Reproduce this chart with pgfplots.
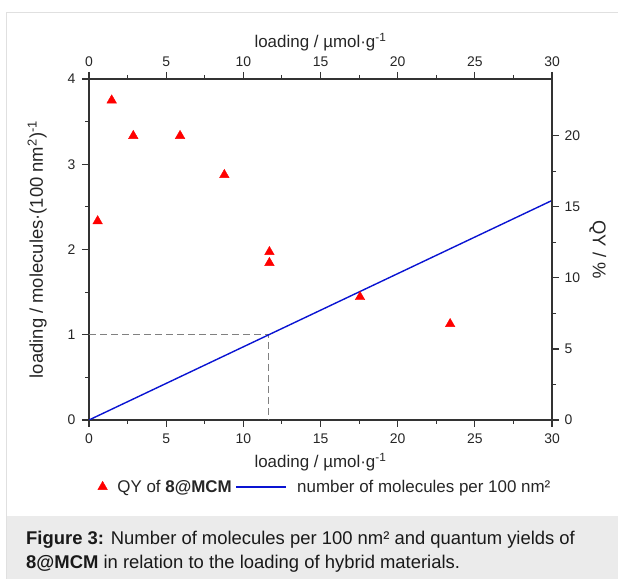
\documentclass[border=0pt]{standalone}
\usepackage{fontspec}
\setmainfont{Liberation Sans}
\usepackage{pgfplots}
\pgfplotsset{compat=1.18}

\definecolor{axisgray}{HTML}{333333}
\definecolor{qyred}{HTML}{FF0000}
\definecolor{lineblue}{HTML}{0A14D2}

\pgfplotsset{
  longline/.style={legend image code/.code={\draw[##1] (0bp,0bp) -- (50bp,0bp);}},
  twin/.style={
    scale only axis, width=463bp, height=341bp,
    xmin=0, xmax=30, xtick={0,5,...,30}, minor x tick num=1,
    tick align=outside, major tick length=7bp, minor tick length=4bp,
    axis line style={axisgray, line width=1.1bp, -},
    every tick/.style={axisgray, line width=1.1bp},
    tick label style={font=\fontsize{14}{16}\selectfont, text=black!85},
    xlabel style={font=\fontsize{17}{20}\selectfont, text=black!85},
    ylabel style={font=\fontsize{18.5}{22}\selectfont, text=black!85},
    /pgf/number format/assume math mode=true,
  },
}

\begin{document}
\begin{tikzpicture}[x=1bp, y=1bp]
\path[use as bounding box] (0,0) rectangle (618,579);
\begin{scope}
\clip (0,0) rectangle (618,579);
\draw[black!12, line width=1.3bp] (6.5,-10) -- (6.5,566.5) -- (640,566.5);
\fill[black!8] (7,0) rectangle (630,63);
\end{scope}

% left axis: molecules per 100 nm^2
\begin{axis}[twin, at={(89bp,159bp)}, anchor=south west,
  axis x line*=bottom, axis y line*=left,
  ymin=0, ymax=4, ytick={0,1,2,3,4}, minor y tick num=1,
  xticklabel style={yshift=-3bp}, yticklabel style={xshift=-3bp},
  xlabel={loading / µmol·g\textsuperscript{-1}},
  xlabel style={at={(axis description cs:0.5,-0.123)}, anchor=center},
  ylabel={loading / molecules·(100 nm\textsuperscript{2})\textsuperscript{-1}},
  ylabel style={at={(axis description cs:-0.112,0.5)}, anchor=center},
]
\addplot[black!50, line width=1.2bp, dash pattern=on 7bp off 4bp]
  coordinates {(0,1) (11.65,1) (11.65,0)};
\addplot[lineblue, line width=1.4bp] coordinates {(0,0) (30,2.575)};
\end{axis}

% right axis: quantum yield
\begin{axis}[twin, at={(89bp,159bp)}, anchor=south west,
  axis x line*=top, axis y line*=right,
  ymin=0, ymax=24, ytick={0,5,...,20}, minor y tick num=1,
  xticklabel style={yshift=2bp}, yticklabel style={xshift=2bp},
  xlabel={loading / µmol·g\textsuperscript{-1}},
  xlabel style={at={(axis description cs:0.5,1.108)}, anchor=center},
  ylabel={QY / \%},
  ylabel style={at={(axis description cs:1.099,0.5)}, anchor=center, rotate=180},
  legend style={at={(axis description cs:0.51,-0.196)}, anchor=center,
    draw=none, fill=none, legend columns=2,
    font=\fontsize{17}{20}\selectfont, text=black!85,
    /tikz/every odd column/.append style={column sep=8bp},
    /tikz/every even column/.append style={column sep=2bp}},
]
\addplot[only marks, mark=triangle*, mark size=5.5bp, color=qyred]
  coordinates {
  (0.56,14.0) (1.47,22.5) (2.87,20.0) (5.90,20.0) (8.77,17.25)
  (11.69,11.83) (11.69,11.06) (17.56,8.66) (23.40,6.76)};
\addlegendentry{QY of \textbf{8@MCM}}
\addlegendimage{lineblue, line width=1.4bp, longline}
\addlegendentry{number of molecules per 100 nm²}
\end{axis}

\node[anchor=base west, inner sep=0pt, font=\fontsize{18.5}{22}\selectfont, text=black!90]
  at (26,34) {\textbf{Figure 3:} Number of molecules per 100 nm² and quantum yields of};
\node[anchor=base west, inner sep=0pt, font=\fontsize{18.5}{22}\selectfont, text=black!90]
  at (26,10) {\textbf{8@MCM} in relation to the loading of hybrid materials.};
\end{tikzpicture}
\end{document}
